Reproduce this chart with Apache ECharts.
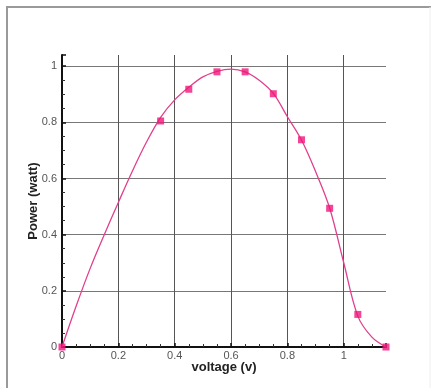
<!DOCTYPE html>
<html>
<head>
<meta charset="utf-8">
<script src="https://cdn.jsdelivr.net/npm/echarts@6/dist/echarts.min.js"></script>
<style>
  html, body { margin: 0; padding: 0; background: #fff; }
  #chart { width: 434px; height: 388px; }
</style>
</head>
<body>
<div id="chart"></div>
<script>
// Measured operating points (voltage in V, power in W)
const measuredV = [0, 0.35, 0.45, 0.55, 0.65, 0.75, 0.85, 0.95, 1.05, 1.15];
const measuredP = [0, 0.805, 0.918, 0.98, 0.98, 0.902, 0.738, 0.494, 0.116, 0];

// Fitted power curve, sampled every 0.05 V
const fitV = [0, 0.05, 0.1, 0.15, 0.2, 0.25, 0.3, 0.35, 0.4, 0.45, 0.5, 0.55, 0.6, 0.65, 0.7, 0.75, 0.8, 0.85, 0.9, 0.95, 1.0, 1.05, 1.1, 1.15];
const fitP = [0, 0.145, 0.28, 0.4, 0.515, 0.627, 0.73, 0.818, 0.88, 0.925, 0.962, 0.982, 0.99, 0.98, 0.95, 0.903, 0.82, 0.737, 0.625, 0.495, 0.30, 0.11, 0.035, 0];

const xTicks = ['0', '0.2', '0.4', '0.6', '0.8', '1'];
const yTicks = ['0', '0.2', '0.4', '0.6', '0.8', '1'];

const chart = echarts.init(document.getElementById('chart'), null, { renderer: 'canvas' });

const fontFamily = 'Liberation Sans, Arial, sans-serif';
const labelFont = { color: '#555', fontSize: 11, fontFamily };
const nameFont = { color: '#222', fontSize: 13, fontWeight: 'bold', fontFamily };

chart.setOption({
  animation: false,
  backgroundColor: '#fff',
  grid: { left: 62, top: 55, right: 48, bottom: 41, containLabel: false },
  graphic: [
    { type: 'line', shape: { x1: 6, y1: 7, x2: 431, y2: 7 }, style: { stroke: '#9a9a9a', lineWidth: 2 } },
    { type: 'line', shape: { x1: 7, y1: 7, x2: 7, y2: 388 }, style: { stroke: '#9a9a9a', lineWidth: 2 } },
    { type: 'line', shape: { x1: 430, y1: 7, x2: 430, y2: 388 }, style: { stroke: '#eeeeee', lineWidth: 1 } }
  ],
  xAxis: {
    type: 'value',
    min: 0,
    max: 1.15,
    interval: 0.2,
    name: 'voltage (v)',
    nameLocation: 'middle',
    nameGap: 14,
    nameMoveOverlap: false,
    nameTextStyle: nameFont,
    axisLine: { show: true, onZero: false, lineStyle: { color: '#111', width: 2 } },
    axisTick: { show: true, inside: true, length: 4, lineStyle: { color: '#111', width: 1.5 } },
    minorTick: { show: true, splitNumber: 4, length: 3, lineStyle: { color: '#333', width: 1 } },
    axisLabel: Object.assign({ margin: 3, showMaxLabel: false, formatter: (v) => xTicks[Math.round(v / 0.2)] ?? '' }, labelFont),
    splitLine: { show: true, showMinLine: false, showMaxLine: false, lineStyle: { color: '#555', width: 1 } }
  },
  yAxis: {
    type: 'value',
    min: 0,
    max: 1.04,
    interval: 0.2,
    name: 'Power (watt)',
    nameLocation: 'middle',
    nameGap: 22,
    nameMoveOverlap: false,
    nameRotate: 90,
    nameTextStyle: nameFont,
    axisLine: { show: true, onZero: false, lineStyle: { color: '#111', width: 2 } },
    axisTick: { show: true, inside: true, length: 4, lineStyle: { color: '#111', width: 1.5 } },
    minorTick: { show: true, splitNumber: 4, length: 3, lineStyle: { color: '#333', width: 1 } },
    axisLabel: Object.assign({ margin: 5, showMaxLabel: false, formatter: (v) => yTicks[Math.round(v / 0.2)] ?? '' }, labelFont),
    splitLine: { show: true, showMinLine: false, showMaxLine: false, lineStyle: { color: '#777', width: 1 } }
  },
  series: [
    {
      name: 'fit',
      type: 'line',
      data: fitV.map((v, i) => [v, fitP[i]]),
      smooth: 0.35,
      showSymbol: false,
      lineStyle: { color: '#e0408c', width: 1.3 },
      z: 3
    },
    {
      name: 'measured',
      type: 'scatter',
      data: measuredV.map((v, i) => [v, measuredP[i]]),
      symbol: 'rect',
      symbolSize: 7,
      itemStyle: { color: '#f0157a' },
      z: 4
    }
  ]
});
</script>
</body>
</html>
